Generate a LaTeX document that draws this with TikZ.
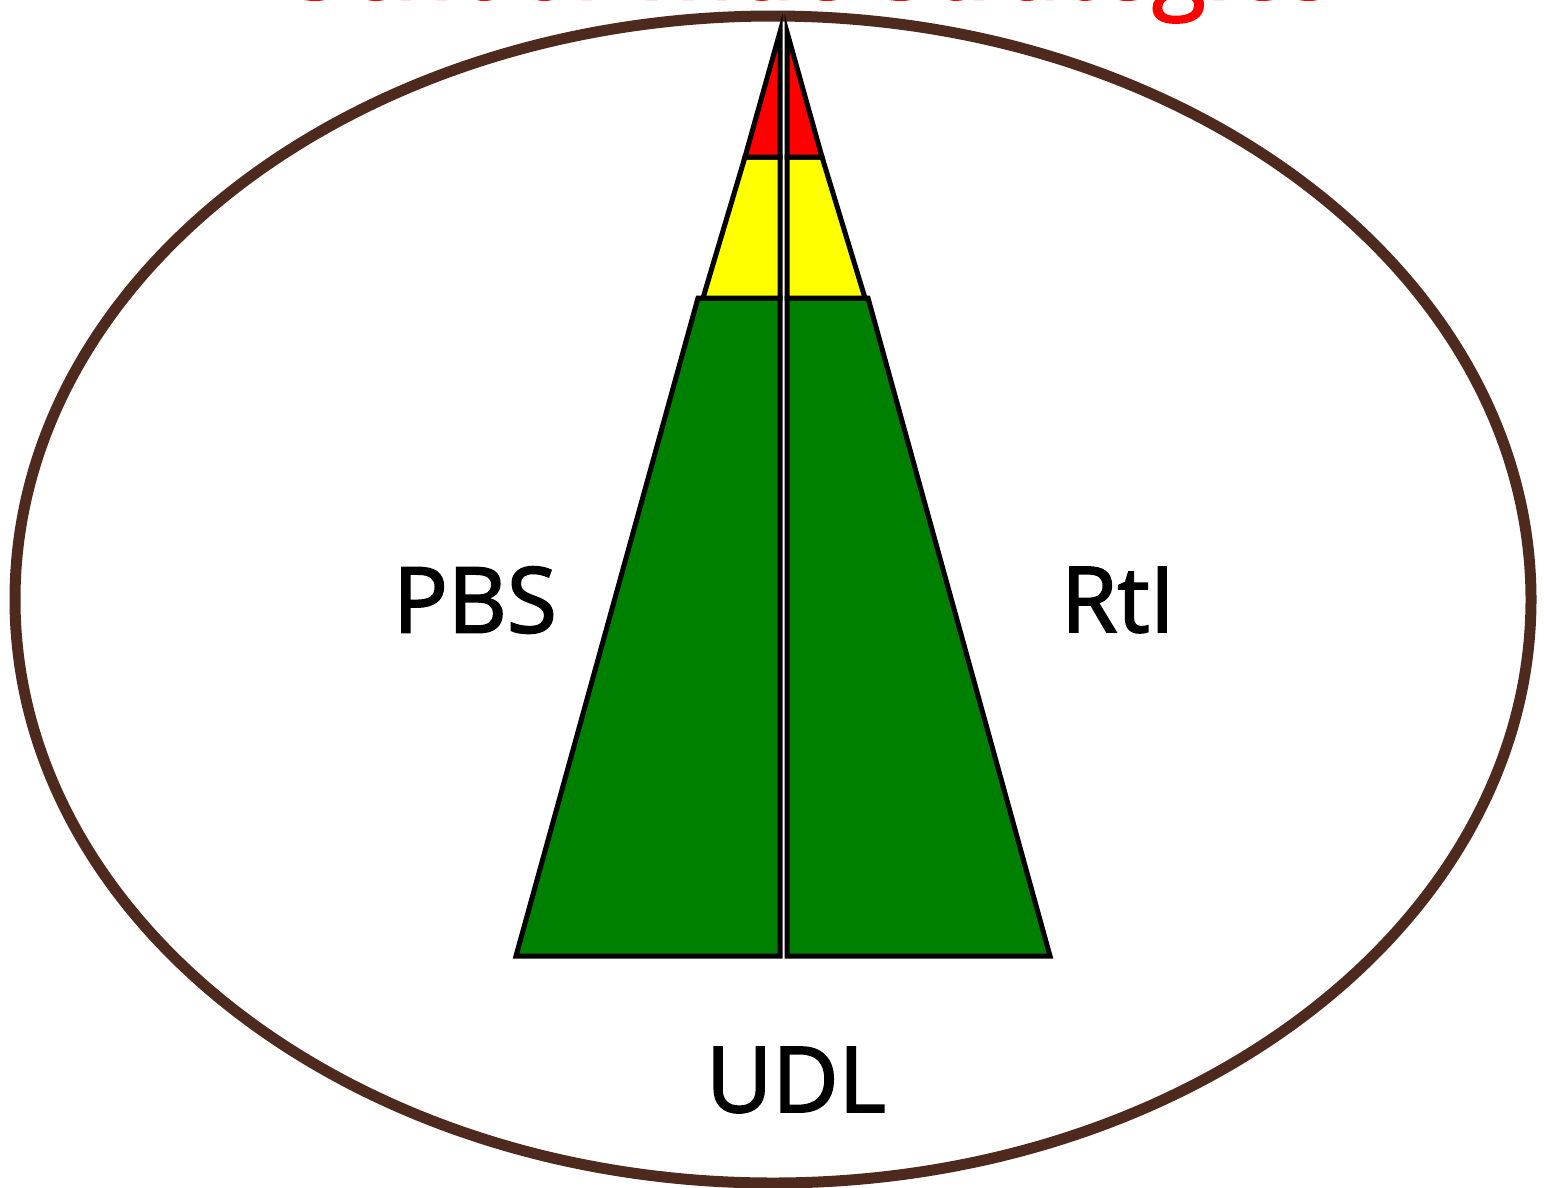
\documentclass[tikz,border=0pt]{standalone}
\usepackage{fontspec}
\setmainfont{Open Sans}
\newfontfamily\lblfont[FakeBold=2]{Open Sans}
\definecolor{rimbrown}{RGB}{78,42,30}
\definecolor{tierred}{RGB}{255,0,0}
\definecolor{tieryellow}{RGB}{255,255,0}
\definecolor{tiergreen}{RGB}{0,128,0}
\tikzset{
  tier/.style={draw=black,line width=5pt,line join=miter},
  label/.style={font=\lblfont\fontsize{91}{91}\selectfont,text=black,inner sep=0pt},
}
\begin{document}
\begin{tikzpicture}[x=1pt,y=-1pt]
\useasboundingbox (0,0) rectangle (1544,1187);
% title (cropped at the top)
\node[anchor=base west,inner sep=0pt,text=tierred,font=\lblfont\fontsize{99.5}{99.5}\selectfont] (title) at (291,-1) {School-wide Strategies};
% ellipse
\draw[rimbrown,line width=11pt] (773,599.5) ellipse [x radius=758,y radius=583.5];
% left half
\draw[tier,fill=tiergreen] (698,298) -- (516,956) -- (780,956) -- (780,298) -- cycle;
\draw[tier,fill=tieryellow] (745,157) -- (703,298) -- (780,298) -- (780,157) -- cycle;
\draw[tier,fill=tierred] (780,32) -- (745,157) -- (780,157) -- cycle;
% right half
\draw[tier,fill=tiergreen] (868,298) -- (1050,956) -- (787,956) -- (787,298) -- cycle;
\draw[tier,fill=tieryellow] (822,157) -- (865,298) -- (787,298) -- (787,157) -- cycle;
\draw[tier,fill=tierred] (787,32) -- (822,157) -- (787,157) -- cycle;
% labels
\node[label] (pbs) at (475,600) {PBS};
\node[label] (rti) at (1118,600) {RtI};
\node[label] (udl) at (796,1080) {UDL};
\end{tikzpicture}
\end{document}
